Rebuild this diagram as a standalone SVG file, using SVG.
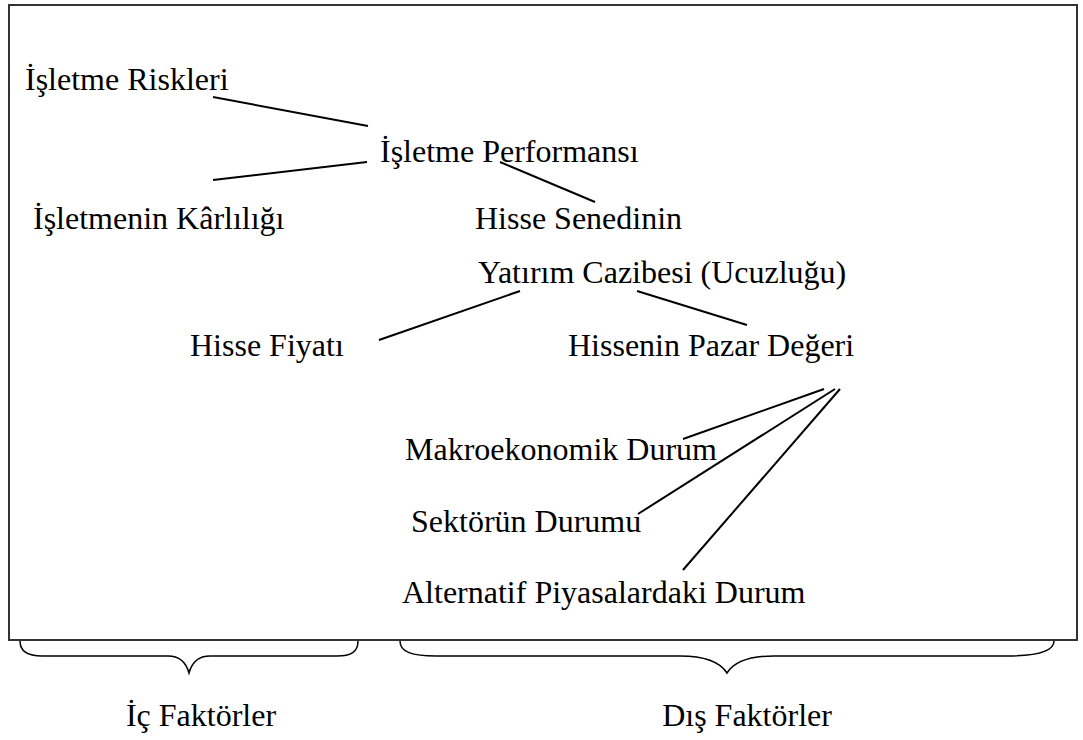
<svg xmlns="http://www.w3.org/2000/svg" width="1083" height="740" viewBox="0 0 1083 740">
<style>
text{font-family:"Liberation Serif","Times New Roman",serif;font-size:32px;fill:#000}
.lbl{text-anchor:middle}
.c line{stroke:#000;stroke-width:2}
.brace{fill:none;stroke:#000;stroke-width:1.5}
</style>
<rect width="1083" height="740" fill="#fff"/>
<rect x="9" y="5" width="1068" height="635" fill="none" stroke="#333" stroke-width="2"/>
<g id="n1"><text x="25" y="90">İşletme Riskleri</text></g>
<g id="n2"><text x="380" y="162">İşletme Performansı</text></g>
<g id="n3"><text x="33" y="229">İşletmenin Kârlılığı</text></g>
<g id="n4"><text x="475" y="229">Hisse Senedinin</text><text x="478" y="283">Yatırım Cazibesi (Ucuzluğu)</text></g>
<g id="n5"><text x="190" y="356">Hisse Fiyatı</text></g>
<g id="n6"><text x="568" y="356">Hissenin Pazar Değeri</text></g>
<g id="n7"><text x="405" y="460">Makroekonomik Durum</text></g>
<g id="n8"><text x="411" y="532">Sektörün Durumu</text></g>
<g id="n9"><text x="402" y="603">Alternatif Piyasalardaki Durum</text></g>
<g class="c" id="connectors">
<line x1="213" y1="97" x2="368" y2="126"/>
<line x1="213" y1="180" x2="367" y2="162"/>
<line x1="500" y1="162" x2="595" y2="202"/>
<line x1="520" y1="291" x2="379" y2="340"/>
<line x1="637" y1="291" x2="747" y2="325"/>
<line x1="824" y1="389" x2="683" y2="439"/>
<line x1="835" y1="389" x2="638" y2="514"/>
<line x1="840" y1="389" x2="683" y2="570"/>
</g>
<g id="braces">
<path class="brace" d="M20,641 C20,652 28,656 42,656 L168,656 C180,656 186,662 189,673 C192,662 198,656 210,656 L337,656 C351,656 358,652 358,641"/>
<path class="brace" d="M400,641 C400,652 412,656 436,656 L680,656 C705,656 720,662 727,673 C734,662 749,656 774,656 L1006,656 C1040,656 1054,650 1054,641"/>
</g>
<g id="l1"><text class="lbl" x="201" y="726">İç Faktörler</text></g>
<g id="l2"><text class="lbl" x="747" y="726">Dış Faktörler</text></g>
</svg>
